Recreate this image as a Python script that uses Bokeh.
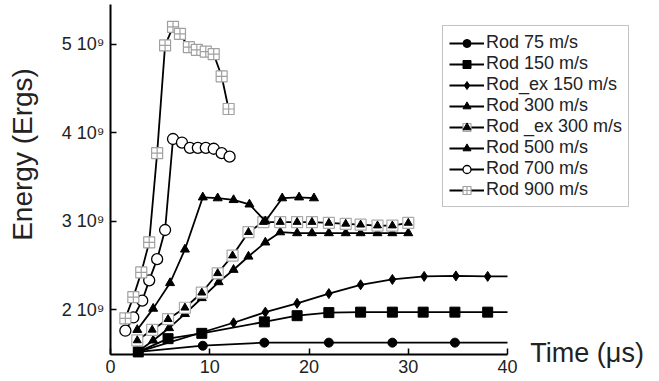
import math
from bokeh.plotting import figure
from bokeh.models import (FixedTicker, CustomJSTickFormatter, Label, Legend, LegendItem,
                          Range1d)
from bokeh.embed import file_html
from bokeh.resources import INLINE

# ---- data (time in microseconds, energy in 1e9 ergs) ----
t_rod75 = [2.8, 9.3, 15.5, 22.0, 28.4, 34.7, 40.0]
e_rod75 = [1.52, 1.59, 1.625, 1.625, 1.625, 1.625, 1.625]

t_rod150 = [2.8, 5.8, 9.2, 15.5, 18.8, 22.0, 25.2, 28.4, 31.5, 34.7, 38.0, 40.0]
e_rod150 = [1.52, 1.67, 1.73, 1.86, 1.93, 1.965, 1.97, 1.97, 1.97, 1.97, 1.97, 1.97]

t_rodex150 = [2.8, 12.4, 15.6, 18.8, 22.0, 25.2, 28.4, 31.6, 34.8, 38.0, 40.0]
e_rodex150 = [1.52, 1.85, 1.97, 2.07, 2.18, 2.28, 2.34, 2.375, 2.38, 2.375, 2.375]

t_rod300 = [2.7, 4.3, 5.9, 7.5, 9.2, 10.9, 12.4, 13.9, 15.6, 17.1, 18.8, 20.3, 22.0,
            23.7, 25.2, 26.9, 28.4, 30.0]
e_rod300 = [1.52, 1.65, 1.79, 1.95, 2.13, 2.31, 2.45, 2.60, 2.76, 2.875, 2.865, 2.865,
            2.865, 2.865, 2.865, 2.865, 2.865, 2.865]

t_rodex300 = [2.7, 4.2, 5.8, 7.5, 9.2, 10.8, 12.3, 13.9, 15.4, 17.1, 18.8, 20.3, 22.0,
              23.7, 25.2, 26.9, 28.4, 30.0]
e_rodex300 = [1.65, 1.77, 1.89, 2.02, 2.19, 2.41, 2.61, 2.875, 2.99, 2.99, 2.99, 2.99,
              2.98, 2.97, 2.96, 2.95, 2.95, 2.98]

t_rod500 = [2.7, 4.3, 6.0, 7.5, 9.3, 10.8, 12.4, 14.0, 15.6, 17.3, 19.0, 20.5]
e_rod500 = [1.77, 2.01, 2.30, 2.68, 3.27, 3.26, 3.24, 3.19, 3.00, 3.26, 3.27, 3.26]

t_rod700 = [1.5, 2.3, 3.2, 3.9, 4.7, 5.5, 6.3, 7.2, 8.0, 8.8, 9.6, 10.4, 11.2, 12.0]
e_rod700 = [1.76, 1.91, 2.10, 2.33, 2.57, 2.90, 3.93, 3.89, 3.83, 3.83, 3.83, 3.82, 3.77, 3.73]

t_rod900 = [1.5, 2.3, 3.1, 3.9, 4.7, 5.5, 6.3, 7.0, 7.9, 8.7, 9.6, 10.4, 11.2, 11.9]
e_rod900 = [1.90, 2.14, 2.42, 2.76, 3.77, 4.99, 5.20, 5.12, 4.97, 4.94, 4.92, 4.89, 4.64, 4.27]

labels = ["Rod 75 m/s", "Rod 150 m/s", "Rod_ex 150 m/s", "Rod 300 m/s",
          "Rod _ex 300 m/s", "Rod 500 m/s", "Rod 700 m/s", "Rod 900 m/s"]
y_ticks = [2, 3, 4, 5]
x_ticks = [0, 10, 20, 30, 40]
x_lim = (0, 40)
y_lim = (1.49, 5.45)

FONT = "Liberation Sans"
TXT = "#222222"

# the frame fills the whole canvas; axes are pinned with fixed_location
p = figure(width=659, height=381, output_backend="svg", toolbar_location=None,
           x_range=Range1d(-11.08, 55.31), y_range=Range1d(1.185, 5.498),
           min_border_left=0, min_border_right=0, min_border_top=0,
           min_border_bottom=0)
p.outline_line_color = None
p.grid.visible = False
p.background_fill_color = "white"

for ax in (p.xaxis[0], p.yaxis[0]):
    ax.axis_line_width = 2
    ax.axis_line_color = "black"
    ax.major_tick_in = 6
    ax.major_tick_out = 0
    ax.major_tick_line_width = 1.5
    ax.minor_tick_line_color = None
    ax.major_label_text_font = FONT
    ax.major_label_text_color = TXT

p.xaxis.ticker = FixedTicker(ticks=x_ticks)
p.xaxis.bounds = x_lim
p.xaxis.fixed_location = y_lim[0]
p.xaxis.major_label_text_font_size = "18px"
p.xaxis.major_label_standoff = 5
p.yaxis.ticker = FixedTicker(ticks=y_ticks)
p.yaxis.bounds = y_lim
p.yaxis.fixed_location = x_lim[0]
p.yaxis.formatter = CustomJSTickFormatter(code="return tick.toFixed(0) + ' 10\u2079';")
p.yaxis.major_label_text_font_size = "18px"
p.yaxis.major_label_standoff = 6

LW = 1.8
items = []

# Rod 75
l = p.line(t_rod75, e_rod75, line_color="black", line_width=LW)
m = p.scatter(t_rod75[:-1], e_rod75[:-1], marker="circle", size=9, color="black")
items.append(LegendItem(label=labels[0], renderers=[l, m]))

# Rod 150
l = p.line(t_rod150, e_rod150, line_color="black", line_width=LW)
m = p.scatter(t_rod150[:-1], e_rod150[:-1], marker="square", size=10, color="black")
items.append(LegendItem(label=labels[1], renderers=[l, m]))

# Rod_ex 150
l = p.line(t_rodex150, e_rodex150, line_color="black", line_width=LW)
m = p.scatter(t_rodex150[:-1], e_rodex150[:-1], marker="diamond", size=10, color="black")
items.append(LegendItem(label=labels[2], renderers=[l, m]))

# Rod 300
l = p.line(t_rod300, e_rod300, line_color="black", line_width=LW)
m = p.scatter(t_rod300, e_rod300, marker="triangle", size=9, color="black")
items.append(LegendItem(label=labels[3], renderers=[l, m]))

# Rod _ex 300
l = p.line(t_rodex300, e_rodex300, line_color="black", line_width=LW)
m1 = p.scatter(t_rodex300, e_rodex300, marker="square", size=11, fill_color="white",
               line_color="#aaaaaa", line_width=1.2)
m2 = p.scatter(t_rodex300, e_rodex300, marker="triangle", size=8, color="black")
items.append(LegendItem(label=labels[4], renderers=[l, m1, m2]))

# Rod 500
l = p.line(t_rod500, e_rod500, line_color="black", line_width=LW)
m = p.scatter(t_rod500, e_rod500, marker="triangle", size=9, color="black")
items.append(LegendItem(label=labels[5], renderers=[l, m]))

# Rod 700
l = p.line(t_rod700, e_rod700, line_color="black", line_width=LW)
m = p.scatter(t_rod700, e_rod700, marker="circle", size=11, fill_color="white",
              line_color="black", line_width=1.3)
items.append(LegendItem(label=labels[6], renderers=[l, m]))

# Rod 900
l = p.line(t_rod900, e_rod900, line_color="black", line_width=LW)
m = p.scatter(t_rod900, e_rod900, marker="square_cross", size=11, fill_color="white",
              line_color="#a0a0a0", line_width=1.2)
items.append(LegendItem(label=labels[7], renderers=[l, m]))

legend = Legend(items=items, location=(442, 174))
legend.border_line_color = "#888888"
legend.border_line_width = 1.5
legend.label_text_font = FONT
legend.label_text_font_size = "18px"
legend.label_text_color = TXT
legend.label_height = 20
legend.glyph_height = 20
legend.glyph_width = 35
legend.label_standoff = 2
legend.spacing = 0
legend.padding = 6
legend.margin = 0
legend.background_fill_alpha = 1
p.add_layout(legend, "center")

# axis titles
p.add_layout(Label(x=-8.87, y=3.755, text="Energy (Ergs)", angle=math.pi / 2,
                   text_font=FONT, text_font_size="28px", text_color=TXT,
                   text_align="center", text_baseline="middle"))
p.add_layout(Label(x=42.3, y=1.51, text="Time (\u03bcs)",
                   text_font=FONT, text_font_size="27px", text_color=TXT,
                   text_align="left", text_baseline="middle"))

open("out.html", "w").write(file_html(p, INLINE))
